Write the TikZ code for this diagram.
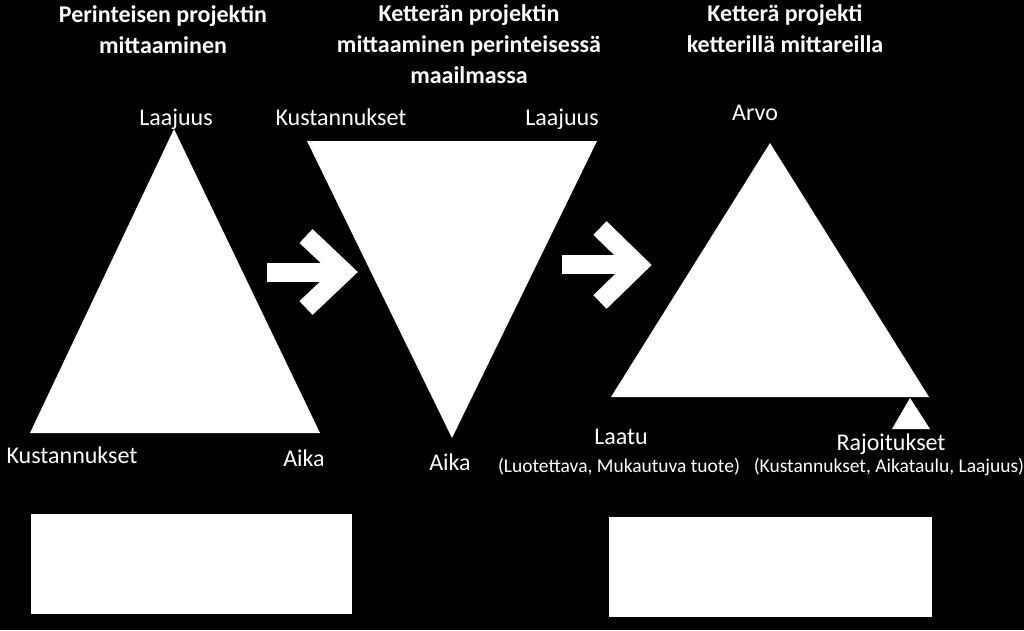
\documentclass[tikz,border=0pt]{standalone}
\usepackage{fontspec}
\setmainfont{Carlito}
\usetikzlibrary{positioning}

\begin{document}
\begin{tikzpicture}[
  x=1pt, y=-1pt,
  ttl/.style ={text=white,font=\fontsize{24}{31}\selectfont\bfseries,
               align=center,inner sep=0pt,anchor=north},
  lbl/.style ={text=white,font=\fontsize{24}{28}\selectfont,inner sep=0pt,anchor=base},
  sub/.style ={text=white,font=\fontsize{19.5}{22}\selectfont,inner sep=0pt,anchor=base},
  shp/.style ={fill=white},
  shaft/.style={draw=white,line width=19pt},
  chev/.style ={draw=white,line width=19pt,line join=miter}]

\fill[black] (0,0) rectangle (1024,630);
\useasboundingbox (0,0) rectangle (1024,630);

% ---------- Left : traditional project ----------
\node[ttl] (t1) at (163,5) {Perinteisen projektin\\mittaaminen};
\coordinate (a1) at (174,129);
\coordinate (b1) at (30,433);
\coordinate (c1) at (320,433);
\fill[shp] (a1) -- (b1) -- (c1) -- cycle;
\node[lbl] (scope1) at (176,125) {Laajuus};
\node[lbl] (cost1) at (72,463) {Kustannukset};
\node[lbl] (time1) at (304,466) {Aika};
\node[shp,minimum width=321pt,minimum height=100pt,anchor=north west] (box1) at (31,514) {};

% ---------- Arrow 1 ----------
\draw[shaft] (267,272) -- (340,272);
\draw[chev] (306,236) -- (344,272) -- (306,308);

% ---------- Middle : agile project, traditional measures ----------
\node[ttl] (t2) at (469,4) {Ketterän projektin\\mittaaminen perinteisessä\\maailmassa};
\coordinate (a2) at (307,141);
\coordinate (b2) at (597,141);
\coordinate (c2) at (452,438);
\fill[shp] (a2) -- (b2) -- (c2) -- cycle;
\node[lbl] (cost2) at (341,125) {Kustannukset};
\node[lbl] (scope2) at (562,125) {Laajuus};
\node[lbl] (time2) at (450,470) {Aika};

% ---------- Arrow 2 ----------
\draw[shaft] (562,264) -- (635,264);
\draw[chev] (600,228) -- (638,265) -- (600,302);

% ---------- Right : agile project, agile measures ----------
\node[ttl] (t3) at (785,4) {Ketterä projekti\\ketterillä mittareilla};
\coordinate (a3) at (770,143);
\coordinate (b3) at (611,397);
\coordinate (c3) at (929,397);
\fill[shp] (a3) -- (b3) -- (c3) -- cycle;
\coordinate (p3) at (910,398);
\fill[shp] (p3) -- (892,429) -- (930,429) -- cycle;
\node[lbl] (value3) at (755,120) {Arvo};
\node[lbl] (qual3) at (621,444) {Laatu};
\node[sub] (qualx) at (619,472) {(Luotettava, Mukautuva tuote)};
\node[lbl] (lim3) at (891,450) {Rajoitukset};
\node[sub] (limx) at (889,472) {(Kustannukset, Aikataulu, Laajuus)};
\node[shp,minimum width=323pt,minimum height=100pt,anchor=north west] (box3) at (609,517) {};

\end{tikzpicture}
\end{document}
